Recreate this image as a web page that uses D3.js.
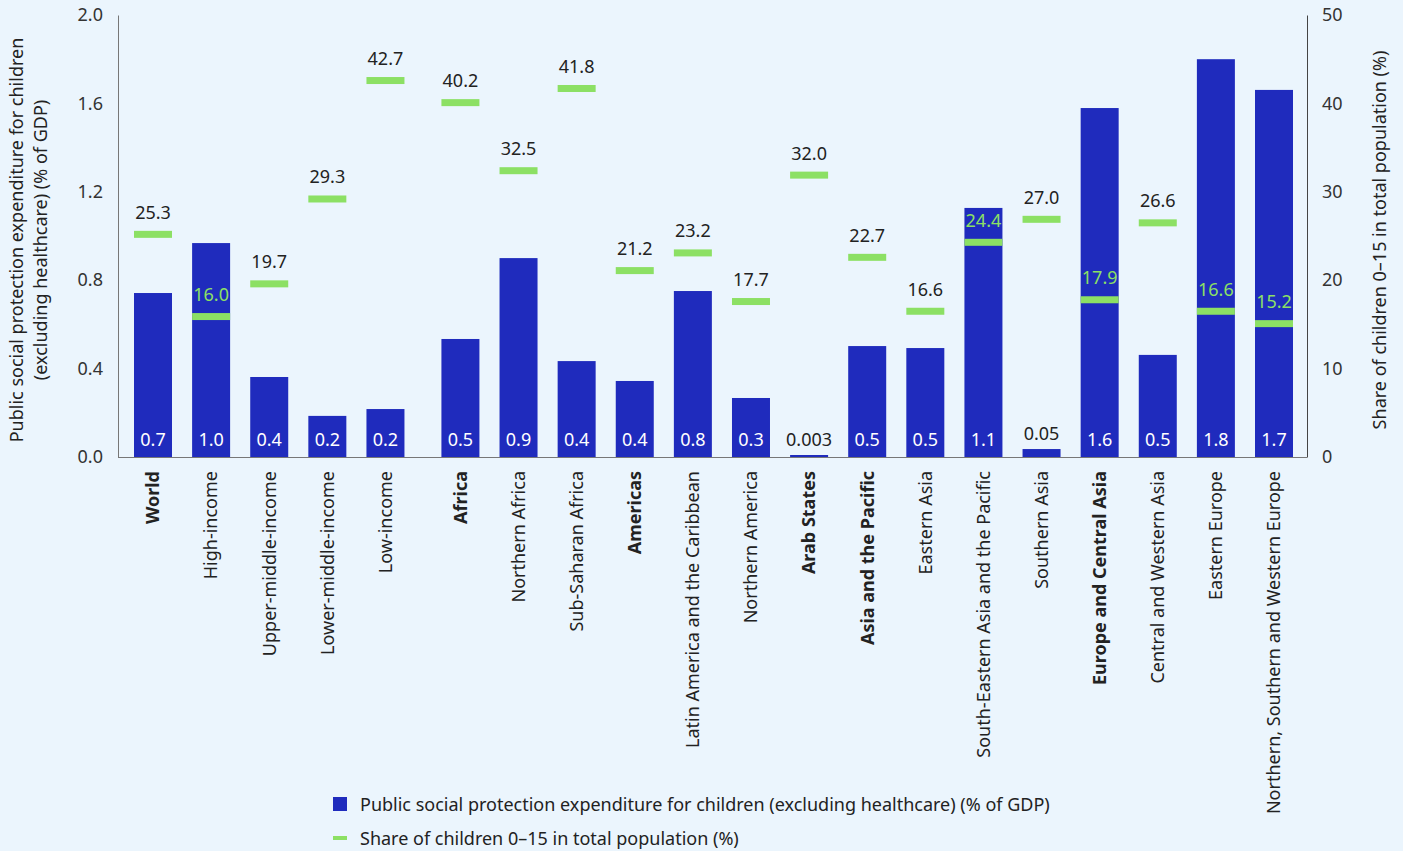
<!DOCTYPE html>
<html>
<head>
<meta charset="utf-8">
<script src="https://cdn.jsdelivr.net/npm/d3@7"></script>
<style>
  html, body { margin: 0; padding: 0; background: #ebf5fd; }
  svg { display: block; font-family: "Noto Sans", sans-serif; }
</style>
</head>
<body>
<svg id="chart" width="1403" height="851"></svg>
<script>
const categories = ["World","High-income","Upper-middle-income","Lower-middle-income","Low-income",
  "Africa","Northern Africa","Sub-Saharan Africa","Americas","Latin America and the Caribbean",
  "Northern America","Arab States","Asia and the Pacific","Eastern Asia","South-Eastern Asia and the Pacific",
  "Southern Asia","Europe and Central Asia","Central and Western Asia","Eastern Europe","Northern, Southern and Western Europe"];
const boldCategories = ["World","Africa","Americas","Arab States","Asia and the Pacific","Europe and Central Asia"];
const expenditure = [0.742,0.968,0.362,0.186,0.217,0.534,0.90,0.434,0.344,0.751,0.267,0.003,0.502,0.493,1.127,0.036,1.579,0.462,1.80,1.661];
const expenditureLabels = ["0.7","1.0","0.4","0.2","0.2","0.5","0.9","0.4","0.4","0.8","0.3","0.003","0.5","0.5","1.1","0.05","1.6","0.5","1.8","1.7"];
const childShare = [25.3,16.0,19.7,29.3,42.7,40.2,32.5,41.8,21.2,23.2,17.7,32.0,22.7,16.6,24.4,27.0,17.9,26.6,16.6,15.2];
const leftTicks = [0,0.4,0.8,1.2,1.6,2.0];
const rightTicks = [0,10,20,30,40,50];
const groupStart = 5; // index where regional groups start (extra gap)
const seriesNames = ["Public social protection expenditure for children (excluding healthcare) (% of GDP)",
                     "Share of children 0\u201315 in total population (%)"];
const leftTitle = ["Public social protection expenditure for children", "(excluding healthcare) (% of GDP)"];
const rightTitle = "Share of children 0\u201315 in total population (%)";

const barColor = "#1f2bbd", green = "#8ce064", textColor = "#222";
const FS = 18;
const svg = d3.select("#chart");

const plotLeft = 118, plotRight = 1307, plotTop = 15, plotBottom = 457;
const gap = 0.29, barW = 38;
const pos = i => i + (i >= groupStart ? gap : 0);
const x = d3.scaleLinear().domain([0, pos(categories.length - 1)]).range([134 + barW/2, 1255 + barW/2]);
const yL = d3.scaleLinear().domain([0, 2.0]).range([plotBottom, plotTop]);
const yR = d3.scaleLinear().domain([0, 50]).range([plotBottom, plotTop]);

const data = categories.map((c, i) => ({c, i, v: expenditure[i], lab: expenditureLabels[i], s: childShare[i]}));

// axes
const axL = d3.axisLeft(yL).tickValues(leftTicks).tickFormat(d3.format(".1f")).tickSize(0).tickPadding(15);
const gL = svg.append("g").attr("transform", `translate(${plotLeft},0)`).call(axL);
gL.select(".domain").attr("stroke", "#777");
gL.selectAll("text").attr("font-size", FS).attr("fill", "#333").attr("font-family", "Noto Sans");

const axR = d3.axisRight(yR).tickValues(rightTicks).tickFormat(d3.format("d")).tickSize(0).tickPadding(15);
const gR = svg.append("g").attr("transform", `translate(${plotRight},0)`).call(axR);
gR.select(".domain").attr("stroke", "#444");
gR.selectAll("text").attr("font-size", FS).attr("fill", "#333").attr("font-family", "Noto Sans");

// bars
svg.append("g").selectAll("rect").data(data).join("rect")
  .attr("x", d => x(pos(d.i)) - barW/2)
  .attr("width", barW)
  .attr("y", d => Math.min(yL(d.v), plotBottom - 2))
  .attr("height", d => Math.max(plotBottom - yL(d.v), 2))
  .attr("fill", barColor);

// bottom baseline
svg.append("line").attr("x1", plotLeft).attr("x2", plotRight).attr("y1", plotBottom + 0.5).attr("y2", plotBottom + 0.5)
  .attr("stroke", "#777").attr("stroke-width", 1.2);

// bar labels
svg.append("g").selectAll("text").data(data).join("text")
  .attr("x", d => x(pos(d.i)))
  .attr("y", d => {
    const top = yL(d.v);
    return (plotBottom - top) < 25 ? Math.min(446, top - 9) : 446;
  })
  .attr("text-anchor", "middle").attr("font-size", FS)
  .attr("fill", d => (plotBottom - yL(d.v)) < 25 ? textColor : "#fff")
  .text(d => d.lab);

// green markers
svg.append("g").selectAll("rect").data(data).join("rect")
  .attr("x", d => x(pos(d.i)) - barW/2)
  .attr("width", barW)
  .attr("y", d => yR(d.s) - 2.5)
  .attr("height", 7)
  .attr("fill", green);

// marker labels
svg.append("g").selectAll("text").data(data).join("text")
  .attr("x", d => x(pos(d.i)))
  .attr("y", d => yR(d.s) - 14.5)
  .attr("text-anchor", "middle").attr("font-size", FS)
  .attr("fill", d => (yR(d.s) - 20 > yL(d.v)) ? green : textColor)
  .text(d => d.s.toFixed(1));

// x category labels
svg.append("g").selectAll("text").data(data).join("text")
  .attr("transform", d => `translate(${x(pos(d.i))},471) rotate(-90)`)
  .attr("dy", "0.35em")
  .attr("text-anchor", "end").attr("font-size", FS)
  .attr("font-weight", d => boldCategories.includes(d.c) ? "bold" : "normal")
  .attr("fill", textColor)
  .text(d => d.c);

// left axis title
const lt = svg.append("text").attr("transform", `translate(0,240) rotate(-90)`)
  .attr("text-anchor", "middle").attr("font-size", FS).attr("fill", textColor);
leftTitle.forEach((t, k) => lt.append("tspan").attr("x", 0).attr("y", 23 + k*24).text(t));

// right axis title
svg.append("text").attr("transform", `translate(1386,240) rotate(-90)`)
  .attr("text-anchor", "middle").attr("font-size", FS).attr("fill", textColor).text(rightTitle);

// legend
const lg = svg.append("g");
lg.append("rect").attr("x", 333).attr("y", 797).attr("width", 14).attr("height", 14).attr("fill", barColor);
lg.append("text").attr("x", 360).attr("y", 811).attr("font-size", FS).attr("fill", textColor).text(seriesNames[0]);
lg.append("rect").attr("x", 333).attr("y", 836).attr("width", 14).attr("height", 4).attr("fill", green);
lg.append("text").attr("x", 360).attr("y", 845).attr("font-size", FS).attr("fill", textColor).text(seriesNames[1]);
</script>
</body>
</html>
